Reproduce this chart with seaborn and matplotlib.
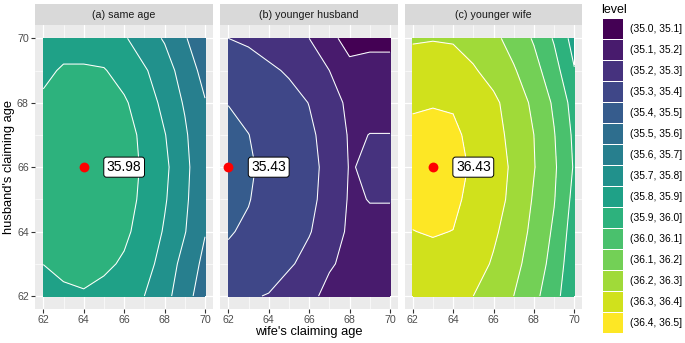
import numpy as np
import matplotlib
matplotlib.use("Agg")
import matplotlib.pyplot as plt
import seaborn as sns
from matplotlib.patches import Rectangle

# grille des âges (axes)
wife_age = [62, 63, 64, 65, 66, 67, 68, 69, 70]
husband_age = [62, 63, 64, 65, 66, 67, 68, 69, 70]

# valeurs : une ligne par âge du mari (62 -> 70),
# une colonne par âge de la femme (62 -> 70)
same_age = [
    [35.860, 35.880, 35.890, 35.875, 35.845, 35.800, 35.735, 35.635, 35.550],
    [35.901, 35.925, 35.935, 35.915, 35.890, 35.840, 35.760, 35.665, 35.574],
    [35.935, 35.955, 35.965, 35.945, 35.915, 35.870, 35.790, 35.705, 35.605],
    [35.945, 35.965, 35.975, 35.955, 35.925, 35.885, 35.810, 35.720, 35.610],
    [35.950, 35.970, 35.980, 35.960, 35.930, 35.890, 35.820, 35.730, 35.610],
    [35.940, 35.960, 35.970, 35.955, 35.925, 35.885, 35.805, 35.715, 35.610],
    [35.915, 35.940, 35.950, 35.940, 35.910, 35.860, 35.770, 35.690, 35.605],
    [35.880, 35.910, 35.910, 35.905, 35.870, 35.810, 35.750, 35.650, 35.570],
    [35.840, 35.860, 35.860, 35.850, 35.810, 35.750, 35.690, 35.610, 35.520],
]

younger_husband = [
    [35.320, 35.310, 35.295, 35.260, 35.235, 35.160, 35.130, 35.130, 35.130],
    [35.385, 35.370, 35.350, 35.310, 35.275, 35.215, 35.165, 35.165, 35.165],
    [35.405, 35.390, 35.365, 35.335, 35.305, 35.260, 35.180, 35.185, 35.185],
    [35.420, 35.403, 35.375, 35.345, 35.320, 35.270, 35.190, 35.202, 35.202],
    [35.430, 35.410, 35.380, 35.350, 35.325, 35.275, 35.195, 35.212, 35.212],
    [35.420, 35.401, 35.375, 35.345, 35.315, 35.270, 35.190, 35.201, 35.201],
    [35.398, 35.380, 35.360, 35.330, 35.298, 35.250, 35.175, 35.180, 35.180],
    [35.360, 35.340, 35.315, 35.290, 35.260, 35.200, 35.130, 35.140, 35.140],
    [35.300, 35.285, 35.260, 35.235, 35.200, 35.130, 35.060, 35.070, 35.070],
]

younger_wife = [
    [36.345, 36.350, 36.345, 36.300, 36.255, 36.200, 36.125, 36.040, 35.910],
    [36.378, 36.382, 36.378, 36.340, 36.290, 36.230, 36.155, 36.065, 35.930],
    [36.399, 36.404, 36.399, 36.365, 36.315, 36.255, 36.175, 36.085, 35.950],
    [36.415, 36.420, 36.415, 36.380, 36.330, 36.280, 36.190, 36.105, 35.970],
    [36.425, 36.430, 36.425, 36.390, 36.340, 36.285, 36.205, 36.115, 35.990],
    [36.415, 36.420, 36.415, 36.380, 36.330, 36.275, 36.200, 36.105, 35.980],
    [36.392, 36.396, 36.392, 36.360, 36.320, 36.255, 36.180, 36.085, 35.960],
    [36.345, 36.350, 36.345, 36.310, 36.265, 36.210, 36.135, 36.040, 35.905],
    [36.290, 36.295, 36.290, 36.260, 36.225, 36.160, 36.090, 35.990, 35.860],
]

panel_titles = ["(a) same age", "(b) younger husband", "(c) younger wife"]
best_wife = [64, 62, 63]
best_husband = [66, 66, 66]
best_label = ["35.98", "35.43", "36.43"]

level_breaks = [35.0, 35.1, 35.2, 35.3, 35.4, 35.5, 35.6, 35.7,
                35.8, 35.9, 36.0, 36.1, 36.2, 36.3, 36.4, 36.5]
level_labels = ["(35.0, 35.1]", "(35.1, 35.2]", "(35.2, 35.3]",
                "(35.3, 35.4]", "(35.4, 35.5]", "(35.5, 35.6]",
                "(35.6, 35.7]", "(35.7, 35.8]", "(35.8, 35.9]",
                "(35.9, 36.0]", "(36.0, 36.1]", "(36.1, 36.2]",
                "(36.2, 36.3]", "(36.3, 36.4]", "(36.4, 36.5]"]

sns.set_theme(style="darkgrid", rc={
    "axes.facecolor": "#EBEBEB",
    "grid.color": "white",
})
plt.rcParams["font.family"] = ["Liberation Sans", "DejaVu Sans"]

palette = plt.get_cmap("viridis")(np.linspace(0, 1, len(level_labels)))

W, H = 685, 343
fig = plt.figure(figsize=(W / 100, H / 100), dpi=100)


def px_rect(x0, y0, x1, y1):
    # pixels (origine en haut à gauche) -> fraction de figure
    return [x0 / W, 1 - y1 / H, (x1 - x0) / W, (y1 - y0) / H]


panel_x = [(35.2, 213.1), (220.2, 398.1), (404.6, 582.4)]
panel_top, panel_bottom = 25.4, 308.9
strip_top = 4.0
grids = [same_age, younger_husband, younger_wife]

for i, (x0, x1) in enumerate(panel_x):
    ax = fig.add_axes(px_rect(x0, panel_top, x1, panel_bottom))
    ax.set_axisbelow(True)
    z = np.array(grids[i])
    ax.contourf(wife_age, husband_age, z, levels=level_breaks,
                colors=palette, zorder=1)
    ax.contour(wife_age, husband_age, z, levels=level_breaks,
               colors="white", linewidths=0.75, zorder=2)

    sns.scatterplot(x=[best_wife[i]], y=[best_husband[i]], ax=ax,
                    color="#FF0000", s=50, linewidth=0, zorder=5)
    ax.text(best_wife[i] + 2, best_husband[i], best_label[i],
            ha="center", va="center", fontsize=10, color="black", zorder=6,
            bbox=dict(boxstyle="round,pad=0.22,rounding_size=0.2",
                      fc="white", ec="black", lw=0.7))

    ax.set_xlim(61.6, 70.4)
    ax.set_ylim(61.6, 70.4)
    ax.set_xticks([62, 64, 66, 68, 70])
    ax.set_yticks([62, 64, 66, 68, 70])
    ax.set_xticks([63, 65, 67, 69], minor=True)
    ax.set_yticks([63, 65, 67, 69], minor=True)
    ax.grid(which="major", color="white", linewidth=0.9)
    ax.grid(which="minor", color="white", linewidth=0.45)
    ax.tick_params(which="major", length=2.6, width=0.8, color="#333333",
                   labelsize=7.7, labelcolor="#4D4D4D", pad=2,
                   bottom=True, left=(i == 0), labelleft=(i == 0))
    ax.tick_params(which="minor", length=0)
    for s in ax.spines.values():
        s.set_visible(False)
    ax.set_xlabel("")
    ax.set_ylabel("")

    strip = fig.add_axes(px_rect(x0, strip_top, x1, panel_top))
    strip.set_facecolor("#D9D9D9")
    strip.set_xticks([])
    strip.set_yticks([])
    for s in strip.spines.values():
        s.set_visible(False)
    strip.grid(False)
    strip.text(0.5, 0.5, panel_titles[i], ha="center", va="center",
               fontsize=7.7, color="#1A1A1A", transform=strip.transAxes)

# couche en pixels pour titres et légende
over = fig.add_axes([0, 0, 1, 1])
over.set_xlim(0, W)
over.set_ylim(H, 0)
over.axis("off")
over.patch.set_alpha(0)

over.text(308.7, 332, "wife's claiming age", ha="center", va="center",
          fontsize=9.3, color="black")
over.text(9, 167, "husband's claiming age", ha="center", va="center",
          fontsize=9.3, color="black", rotation=90)

over.text(601.5, 10, "level", ha="left", va="center", fontsize=9,
          color="black")
key_top, key_step = 19.3, 21.0
for k, lab in enumerate(level_labels):
    ytop = key_top + k * key_step
    over.add_patch(Rectangle((603.0, ytop), 19.7, key_step - 1.3,
                             facecolor=palette[k], edgecolor="none"))
    over.text(630, ytop + (key_step - 1.3) / 2, lab, ha="left", va="center",
              fontsize=7.4, color="black")

fig.savefig("out.png", dpi=100)
